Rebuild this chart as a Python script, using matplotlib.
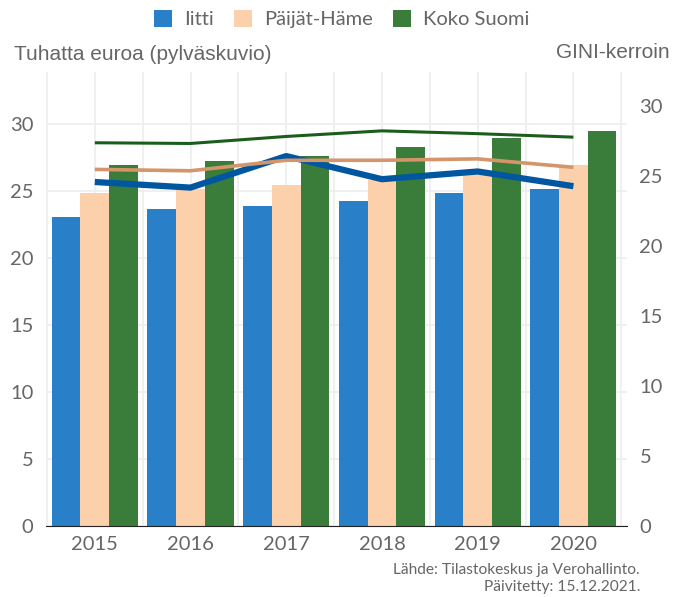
import matplotlib
matplotlib.use("Agg")
import matplotlib.pyplot as plt
import numpy as np

years = ["2015", "2016", "2017", "2018", "2019", "2020"]
series = ["Iitti", "Päijät-Häme", "Koko Suomi"]

# tuhatta euroa (bars, left axis)
iitti = [23.1, 23.7, 23.9, 24.3, 24.85, 25.15]
paijat_hame = [24.85, 25.2, 25.45, 25.8, 26.3, 26.95]
koko_suomi = [26.95, 27.25, 27.6, 28.3, 29.0, 29.5]

# GINI-kerroin (lines, right axis)
gini_iitti = [24.55, 24.15, 26.4, 24.75, 25.3, 24.25]
gini_paijat_hame = [25.45, 25.35, 26.1, 26.1, 26.2, 25.6]
gini_koko_suomi = [27.35, 27.3, 27.8, 28.2, 28.0, 27.75]

bar_colors = ["#2a7fc9", "#fcd0aa", "#3a7d3a"]
line_colors = ["#0057a0", "#d4956a", "#1b5e1b"]
grey = "#666666"

fig = plt.figure(figsize=(6.83, 5.97), dpi=100)
ax = fig.add_axes([46 / 683, 1 - 526 / 597, (627 - 46) / 683, (526 - 72) / 597])
ax2 = ax.twinx()

x = np.arange(len(years))
w = 0.3
for i, (vals, c) in enumerate(zip([iitti, paijat_hame, koko_suomi], bar_colors)):
    ax.bar(x + (i - 1) * w, vals, w, color=c, label=series[i], zorder=2)

for vals, c, lw in zip([gini_iitti, gini_paijat_hame, gini_koko_suomi], line_colors, [4.5, 2.6, 2.2]):
    ax2.plot(x, vals, color=c, lw=lw, solid_capstyle="butt", zorder=3)

ax.set_xlim(-0.51, 5.56)
ax.set_ylim(0, 33.9)
ax2.set_ylim(0, 32.4)
ax.set_yticks(range(0, 31, 5))
ax2.set_yticks(range(0, 31, 5))
ax.set_xticks(x)
ax.set_xticklabels(years)
ax.set_xticks(np.arange(-0.5, 5.6, 0.5), minor=True)

ax.grid(True, which="both", axis="x", color="#eeeeee", lw=1.2, zorder=0)
ax.grid(True, which="major", axis="y", color="#eeeeee", lw=1.2, zorder=0)
ax.set_axisbelow(True)

for a in (ax, ax2):
    for s in ["top", "left", "right"]:
        a.spines[s].set_visible(False)
    a.spines["bottom"].set_color("#222222")
    a.tick_params(length=0, which="both", labelsize=14.5, labelcolor=grey)
    for lab in a.get_xticklabels() + a.get_yticklabels():
        lab.set_family("Lato")
ax2.spines["bottom"].set_visible(False)
ax.tick_params(axis="x", pad=7)
ax.tick_params(axis="y", pad=9)
ax2.tick_params(axis="y", pad=9)

fig.text(14 / 683, 1 - 55 / 597, "Tuhatta euroa (pylväskuvio)", fontsize=15,
         color=grey, family="Liberation Sans", va="center", ha="left")
fig.text(670 / 683, 1 - 52 / 597, "GINI-kerroin", fontsize=15,
         color=grey, family="Liberation Sans", va="center", ha="right")

fig.legend(loc="center", bbox_to_anchor=(0.5, 1 - 19 / 597), ncol=3, frameon=False,
           prop={"family": "Lato", "size": 14.5}, labelcolor=grey,
           handlelength=0.9, handleheight=0.9, handletextpad=0.6, columnspacing=1.0)

fig.text(640 / 683, 1 - 570 / 597, "Lähde: Tilastokeskus ja Verohallinto.", fontsize=11.2,
         color=grey, family="Lato", ha="right", va="center")
fig.text(640 / 683, 1 - 587 / 597, "Päivitetty: 15.12.2021.", fontsize=11.2,
         color=grey, family="Lato", ha="right", va="center")

fig.savefig("out.png", dpi=100)
